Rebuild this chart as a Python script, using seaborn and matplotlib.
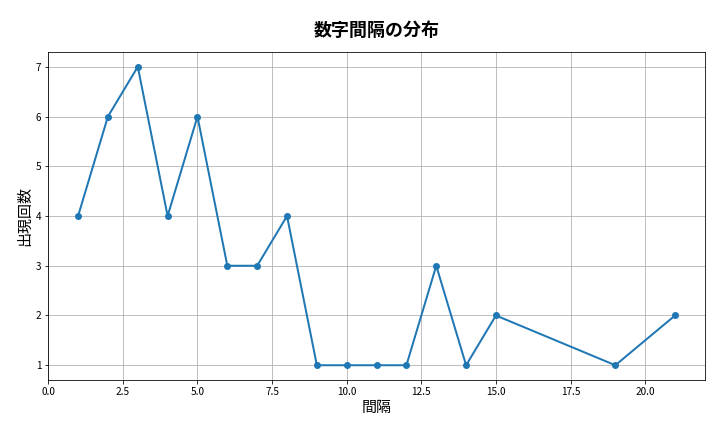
import matplotlib
matplotlib.use("Agg")
import matplotlib.pyplot as plt
import seaborn as sns
import pandas as pd

intervals = [1, 2, 3, 4, 5, 6, 7, 8, 9, 10, 11, 12, 13, 14, 15, 19, 21]
counts = [4, 6, 7, 4, 6, 3, 3, 4, 1, 1, 1, 1, 3, 1, 2, 1, 2]

plt.rcParams['font.family'] = ['Noto Sans CJK JP', 'DejaVu Sans']
df = pd.DataFrame({"間隔": intervals, "出現回数": counts})

fig, ax = plt.subplots(figsize=(10, 6), dpi=72)
sns.lineplot(data=df, x="間隔", y="出現回数", marker="o", markersize=7,
             markeredgewidth=0, linewidth=2, color="#1f77b4", ax=ax)
ax.set_title("数字間隔の分布", fontsize=18, fontweight="bold", pad=16)
ax.set_xlabel("間隔", fontsize=15)
ax.set_ylabel("出現回数", fontsize=15)
ax.set_xlim(0, 22)
ax.grid(True)
fig.subplots_adjust(left=0.067, right=0.979, top=0.88, bottom=0.12)
fig.savefig("out.png")
